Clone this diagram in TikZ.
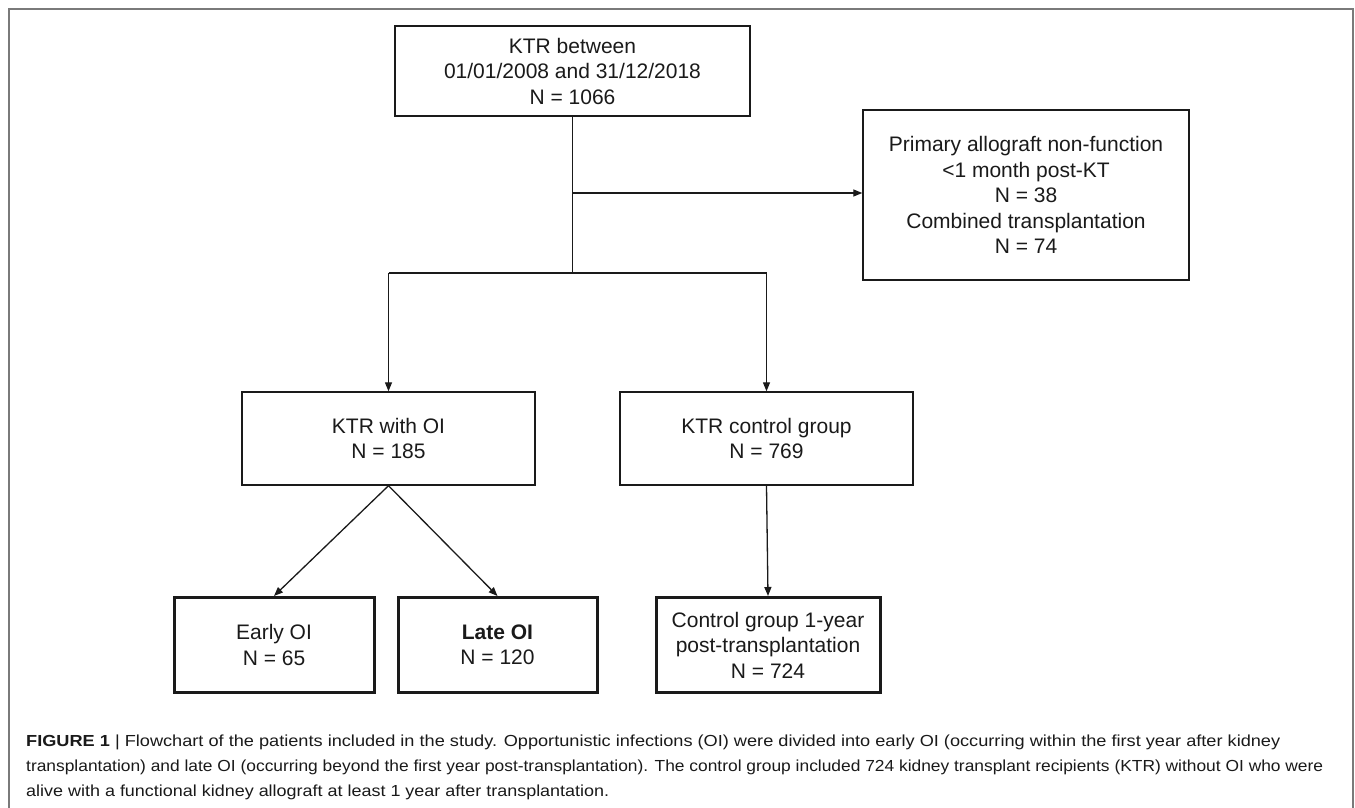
\documentclass[tikz,border=0pt]{standalone}
\usepackage{graphicx}
\usepackage{fontspec}
\setmainfont{Liberation Sans}
\usetikzlibrary{arrows.meta}
\definecolor{framegray}{HTML}{7A7A7A}
\definecolor{ink}{HTML}{1A1A1A}
\tikzset{
  box/.style={draw=ink, line width=1.4pt, rectangle, inner sep=0pt, align=center,
    font=\fontsize{21}{25.5}\selectfont, text=ink},
  thickbox/.style={box, line width=3pt},
  conn/.style={draw=ink, line width=1.3pt},
  arr/.style={conn, -{Triangle[length=9pt,width=7pt]}},
  captext/.style={anchor=base west, inner sep=0pt, font=\fontsize{16}{19}\selectfont, text=ink}
}
\begin{document}
\begin{tikzpicture}[x=1pt,y=-1pt]
\useasboundingbox (0,0) rectangle (1355,808);
\fill[white] (0,0) rectangle (1355,808);
\draw[framegray, line width=1.5pt] (9,808) -- (9,9) -- (1353,9) -- (1353,808);

\node[box, minimum width=355pt, minimum height=90pt] (top) at (572.5,71)
  {KTR between\\01/01/2008 and 31/12/2018\\N = 1066};
\node[box, minimum width=326pt, minimum height=170pt] (excl) at (1026,195)
  {Primary allograft non-function\\<1 month post-KT\\N = 38\\Combined transplantation\\N = 74};
\node[box, minimum width=293pt, minimum height=93pt] (oi) at (388.5,438.5)
  {KTR with OI\\N = 185};
\node[box, minimum width=293pt, minimum height=93pt] (ctl) at (766.5,438.5)
  {KTR control group\\N = 769};
\node[thickbox, minimum width=200pt, minimum height=95pt] (early) at (274,645)
  {Early OI\\N = 65};
\node[thickbox, minimum width=199pt, minimum height=95pt] (late) at (497.5,645)
  {\textbf{Late OI}\\N = 120};
\node[thickbox, minimum width=224pt, minimum height=95pt] (ctl1) at (768,645)
  {Control group 1-year\\post-transplantation\\N = 724};

\coordinate (j1) at (572.5,193);
\coordinate (j2) at (572.5,273);
\coordinate (jl) at (388.5,273);
\coordinate (jr) at (766.5,273);

\draw[conn] (top.south) -- (j2);
\draw[arr] (j1) -- (j1 -| excl.west);
\draw[conn] (jl) -- (jr);
\draw[arr] (jl) -- (oi.north);
\draw[arr] (jr) -- (ctl.north);
\draw[arr] (oi.south) -- (early.north);
\draw[arr] (oi.south) -- (late.north);
\draw[arr] (ctl.south) -- (ctl1.north);

\node[captext] (c1) at (26,746) {\resizebox{1254pt}{\height}{\textbf{FIGURE 1} | Flowchart of the patients included in the study. Opportunistic infections (OI) were divided into early OI (occurring within the first year after kidney}};
\node[captext] (c2) at (26,771) {\resizebox{1297pt}{\height}{transplantation) and late OI (occurring beyond the first year post-transplantation). The control group included 724 kidney transplant recipients (KTR) without OI who were}};
\node[captext] (c3) at (26,796) {\resizebox{583pt}{\height}{alive with a functional kidney allograft at least 1 year after transplantation.}};
\end{tikzpicture}
\end{document}
